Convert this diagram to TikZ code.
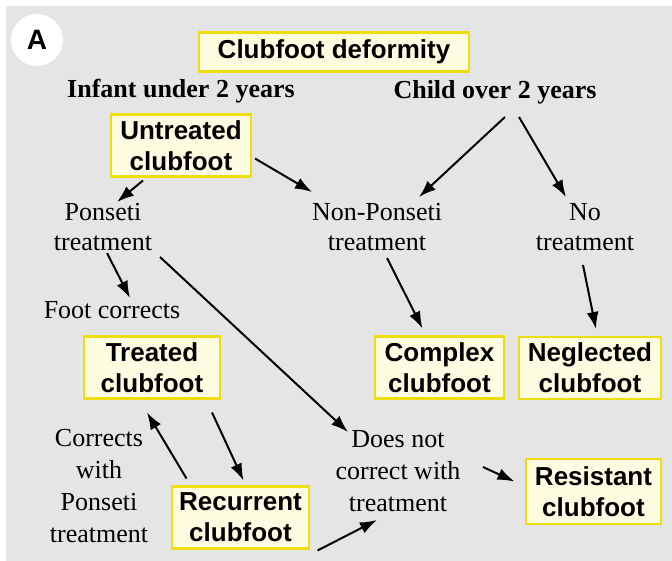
\documentclass[tikz,border=0pt]{standalone}
\usepackage{fontspec}
\setmainfont{Liberation Serif}
\setsansfont{Liberation Sans}
\usepackage{xcolor}
\definecolor{e5e5e5}{HTML}{E5E5E5}
\definecolor{fffde1}{HTML}{FFFDE1}
\definecolor{eedd11}{HTML}{EEDD11}
\usepackage{tikz}
\usetikzlibrary{arrows.meta}

\begin{document}
\begin{tikzpicture}[x=1pt, y=-1pt,
        cfbox/.style={draw=eedd11, line width=2.2pt, fill=fffde1, align=center,
            inner xsep=7pt, inner ysep=2pt, minimum height=62pt,
            font=\sffamily\bfseries\fontsize{26}{31}\selectfont},
        plain/.style={align=center, inner sep=0pt, font=\fontsize{26}{30}\selectfont},
        tall/.style={plain, font=\fontsize{26}{31.7}\selectfont},
        heading/.style={inner sep=0pt, font=\bfseries\fontsize{26}{31}\selectfont},
        arr/.style={line width=2pt, -{Latex[length=17pt, width=12pt]}}]

            \useasboundingbox (0, 0) rectangle (672, 561);
            \fill[e5e5e5] (6, 6) rectangle (672, 561);

            \node[circle, fill=white, minimum size=52pt, inner sep=0pt,
                font=\sffamily\bfseries\fontsize{28}{28}\selectfont] (panel) at (37, 40) {A};

            \node[cfbox, minimum height=39pt, minimum width=270pt] (deform) at (334, 52) {Clubfoot deformity};
            \node[heading] (infant) at (181, 91) {Infant under 2 years};
            \node[heading] (child) at (495, 92) {Child over 2 years};

            \node[cfbox, minimum width=140pt] (untreated) at (181, 145.5) {Untreated\\clubfoot};
            \node[plain] (ponseti) at (103, 227) {Ponseti\\treatment};
            \node[plain] (nonponseti) at (377, 227) {Non-Ponseti\\treatment};
            \node[plain] (notreat) at (585, 227) {No\\treatment};
            \node[plain] (footcorr) at (112, 310) {Foot corrects};

            \node[cfbox, minimum width=136pt] (treated) at (152, 367.5) {Treated\\clubfoot};
            \node[cfbox, minimum width=129pt] (complex) at (439.5, 367.5) {Complex\\clubfoot};
            \node[cfbox, minimum width=142pt] (neglected) at (590, 368) {Neglected\\clubfoot};

            \node[tall] (corrects) at (99, 486) {Corrects\\with\\Ponseti\\treatment};
            \node[cfbox, minimum width=137pt] (recurrent) at (240.5, 517.5) {Recurrent\\clubfoot};
            \node[tall] (doesnot) at (398, 471) {Does not\\correct with\\treatment};
            \node[cfbox, minimum width=135pt, minimum height=65pt] (resistant) at (593.5, 491.5) {Resistant\\clubfoot};

            \draw[arr] ([shift={(-38, 35)}]untreated.center) -- ([shift={(14, -25)}]ponseti.center);
            \draw[arr] ([shift={(74, 13)}]untreated.center) -- ([shift={(-65, -35)}]nonponseti.center);
            \draw[arr] ([shift={(10, 25)}]child.center) -- ([shift={(42, -30)}]nonponseti.center);
            \draw[arr] ([shift={(24, 25)}]child.center) -- ([shift={(-19, -30)}]notreat.center);
            \draw[arr] ([shift={(4, 26)}]ponseti.center) -- ([shift={(18, -12)}]footcorr.center);
            \draw[arr] ([shift={(57, 30)}]ponseti.center) -- ([shift={(-50, -39)}]doesnot.center);
            \draw[arr] ([shift={(10, 31)}]nonponseti.center) -- ([shift={(-17, -39)}]complex.center);
            \draw[arr] ([shift={(-2, 38)}]notreat.center) -- ([shift={(6, -39)}]neglected.center);
            \draw[arr] ([shift={(60, 45)}]treated.center) -- ([shift={(3, -37)}]recurrent.center);
            \draw[arr] ([shift={(-54, -39)}]recurrent.center) -- ([shift={(-5, 45)}]treated.center);
            \draw[arr] ([shift={(77, 33)}]recurrent.center) -- ([shift={(-21, 49)}]doesnot.center);
            \draw[arr] ([shift={(85, -4)}]doesnot.center) -- ([shift={(-79, -10)}]resistant.center);
        \end{tikzpicture}
\end{document}
